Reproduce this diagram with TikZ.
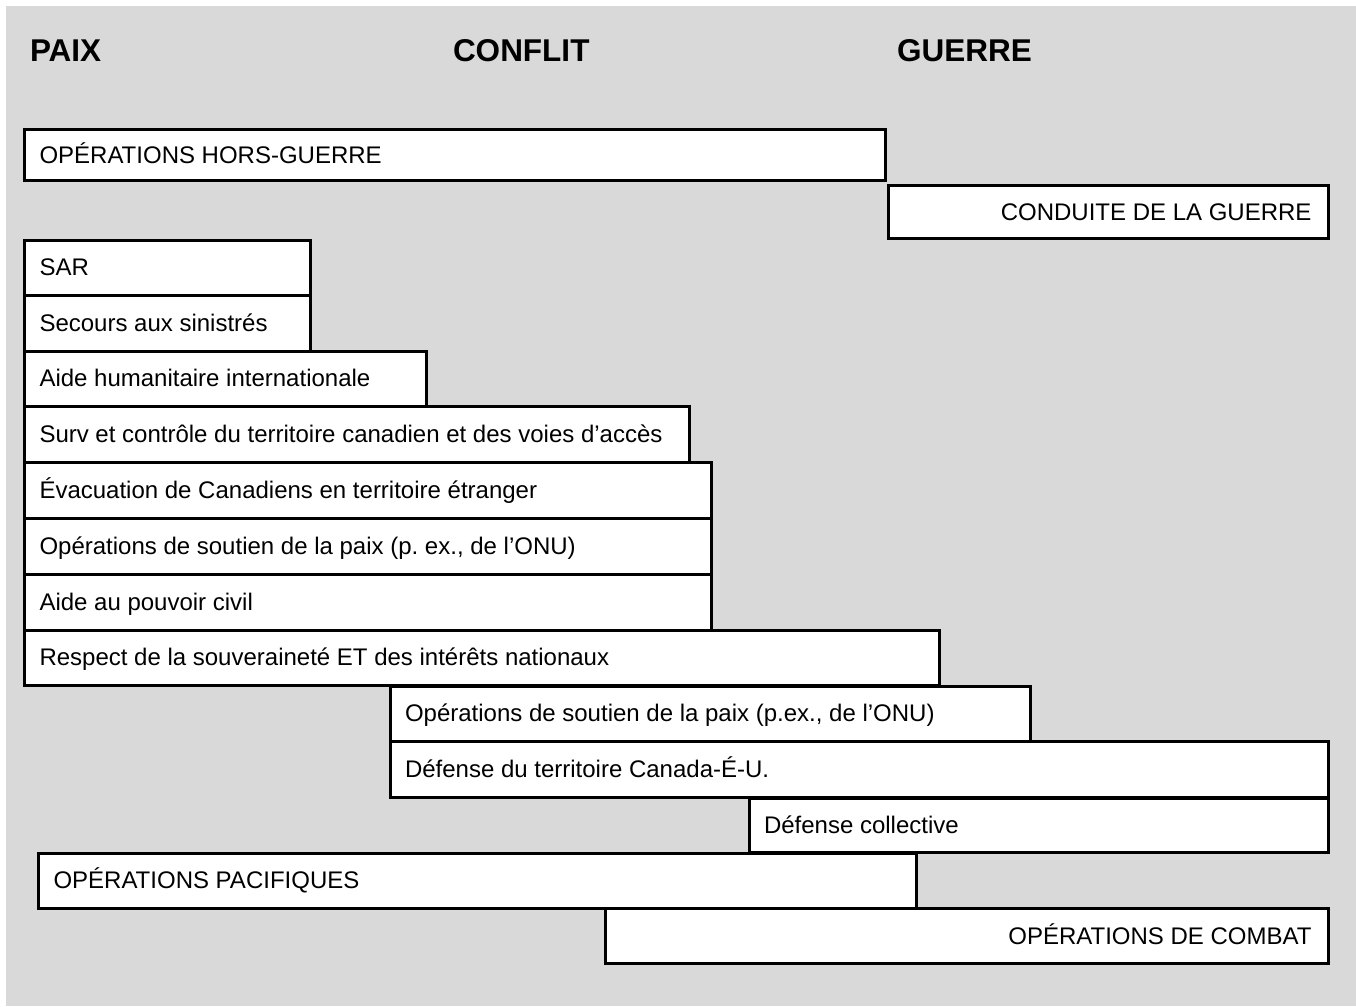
\documentclass[tikz,border=0pt]{standalone}
\usepackage{fontspec}
\setmainfont{Liberation Sans}
\definecolor{bggray}{HTML}{D9D9D9}
\frenchspacing
\begin{document}
\begin{tikzpicture}[x=1pt,y=-1pt,
  box/.style={draw=black, fill=white, line width=3pt, rectangle, inner sep=0pt, outer sep=0pt},
  lbl/.style={inner sep=0pt, outer sep=0pt, font=\fontsize{24}{28}\selectfont},
  ttl/.style={inner sep=0pt, outer sep=0pt, font=\fontsize{31.5}{36}\selectfont\bfseries, anchor=base west}]
\useasboundingbox (0,0) rectangle (1356,1006);
\fill[bggray] (6,6) rectangle (1356,1006);
\node[ttl] (paix) at (30,62) {PAIX};
\node[ttl] (conflit) at (453,62) {CONFLIT};
\node[ttl] (guerre) at (897,62) {GUERRE};
% boxes: name, x1,y1,x2,y2 (centre lines)
\def\mkbox#1#2#3#4#5{\node[box, anchor=north west, minimum width={(#4)-(#2)}, minimum height={(#5)-(#3)}] (#1) at (#2,#3) {};}
\mkbox{hors}{24.5}{129.5}{885.5}{180.5}
\mkbox{conduite}{888.5}{185.5}{1328.5}{238.5}
\mkbox{sar}{24.5}{240}{310.5}{295.5}
\mkbox{secours}{24.5}{295.5}{310.5}{351.5}
\mkbox{aidehum}{24.5}{351.5}{426.5}{406}
\mkbox{surv}{24.5}{406}{689.5}{462}
\mkbox{evac}{24.5}{462}{711.5}{518}
\mkbox{soutien}{24.5}{518}{711.5}{574}
\mkbox{pouvoir}{24.5}{574}{711.5}{630}
\mkbox{respect}{24.5}{630}{939.5}{685.5}
\mkbox{soutienb}{390}{686}{1030.5}{741}
\mkbox{defterr}{390}{741}{1328.5}{797}
\mkbox{defcoll}{749}{798}{1328.5}{852}
\mkbox{pacif}{38.5}{853}{916.5}{908}
\mkbox{combat}{605.5}{908.5}{1328.5}{963.5}
% labels
\node[lbl, anchor=base west] (t-hors) at ([xshift=15pt,yshift=-8pt]hors.west) {OPÉRATIONS HORS-GUERRE};
\node[lbl, anchor=base east] (t-conduite) at ([xshift=-17pt,yshift=-8pt]conduite.east) {CONDUITE DE LA GUERRE};
\node[lbl, anchor=base west] (t-sar) at ([xshift=15pt,yshift=-8pt]sar.west) {SAR};
\node[lbl, anchor=base west] (t-secours) at ([xshift=15pt,yshift=-8pt]secours.west) {Secours aux sinistrés};
\node[lbl, anchor=base west] (t-aidehum) at ([xshift=15pt,yshift=-8pt]aidehum.west) {Aide humanitaire internationale};
\node[lbl, anchor=base west] (t-surv) at ([xshift=15pt,yshift=-8pt]surv.west) {Surv et contrôle du territoire canadien et des voies d’accès};
\node[lbl, anchor=base west] (t-evac) at ([xshift=15pt,yshift=-8pt]evac.west) {Évacuation de Canadiens en territoire étranger};
\node[lbl, anchor=base west] (t-soutien) at ([xshift=15pt,yshift=-8pt]soutien.west) {Opérations de soutien de la paix (p. ex., de l’ONU)};
\node[lbl, anchor=base west] (t-pouvoir) at ([xshift=15pt,yshift=-8pt]pouvoir.west) {Aide au pouvoir civil};
\node[lbl, anchor=base west] (t-respect) at ([xshift=15pt,yshift=-8pt]respect.west) {Respect de la souveraineté ET des intérêts nationaux};
\node[lbl, anchor=base west] (t-soutienb) at ([xshift=15pt,yshift=-8pt]soutienb.west) {Opérations de soutien de la paix (p.ex., de l’ONU)};
\node[lbl, anchor=base west] (t-defterr) at ([xshift=15pt,yshift=-8pt]defterr.west) {Défense du territoire Canada-É-U.};
\node[lbl, anchor=base west] (t-defcoll) at ([xshift=15pt,yshift=-8pt]defcoll.west) {Défense collective};
\node[lbl, anchor=base west] (t-pacif) at ([xshift=15pt,yshift=-8pt]pacif.west) {OPÉRATIONS PACIFIQUES};
\node[lbl, anchor=base east] (t-combat) at ([xshift=-17pt,yshift=-8pt]combat.east) {OPÉRATIONS DE COMBAT};
\end{tikzpicture}
\end{document}
